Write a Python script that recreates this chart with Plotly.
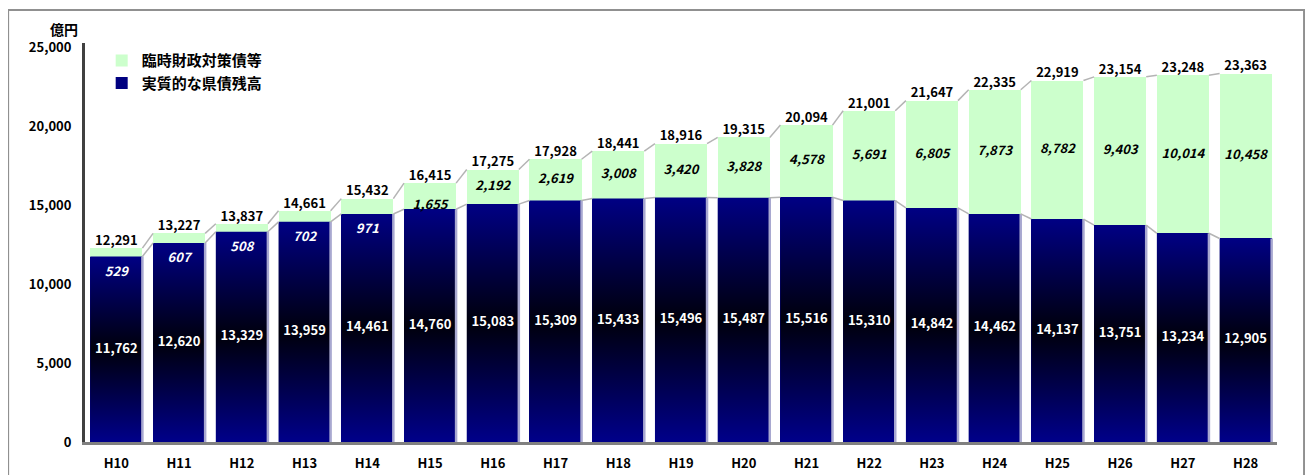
import plotly.graph_objects as go

categories = ["H10", "H11", "H12", "H13", "H14", "H15", "H16", "H17", "H18", "H19",
              "H20", "H21", "H22", "H23", "H24", "H25", "H26", "H27", "H28"]
debt = [11762, 12620, 13329, 13959, 14461, 14760, 15083, 15309, 15433, 15496,
        15487, 15516, 15310, 14842, 14462, 14137, 13751, 13234, 12905]
special = [529, 607, 508, 702, 971, 1655, 2192, 2619, 3008, 3420,
           3828, 4578, 5691, 6805, 7873, 8782, 9403, 10014, 10458]
name_special = "臨時財政対策債等"
name_debt = "実質的な県債残高"
unit_label = "億円"
y_ticks = [0, 5000, 10000, 15000, 20000, 25000]

totals = [a + b for a, b in zip(debt, special)]
xs = list(range(len(categories)))
W = 0.83
FONT = "Noto Sans CJK JP"
NAVY = "#000080"
GREEN = "#CCFFCC"

fig = go.Figure()

fig.add_trace(go.Bar(x=xs, y=debt, width=W, name=name_debt, legendgroup="d",
                     marker=dict(color=NAVY, line=dict(width=0)),
                     hoverinfo="y"))
fig.add_trace(go.Bar(x=xs, y=special, width=W, name=name_special, legendgroup="s",
                     marker=dict(color=GREEN, line=dict(width=0)),
                     hoverinfo="y"))

for i, v in zip(xs, debt):
    fig.add_trace(go.Scatter(
        x=[i - W / 2, i + W / 2, i + W / 2, i - W / 2, i - W / 2],
        y=[0, 0, v, v, 0],
        mode="lines", fill="toself", line=dict(width=0),
        fillgradient=dict(type="vertical",
                          colorscale=[[0, "#00008a"], [0.5, "#00000c"], [1, "#000084"]]),
        showlegend=False, hoverinfo="skip"))
    fig.add_trace(go.Scatter(
        x=[i + W / 2, i + W / 2], y=[0, v], mode="lines",
        line=dict(color="#A8A8D0", width=2.5),
        showlegend=False, hoverinfo="skip"))

def series_line(vals):
    lx, ly = [], []
    for i in range(len(vals) - 1):
        lx += [i + W / 2, i + 1 - W / 2, None]
        ly += [vals[i], vals[i + 1], None]
    return go.Scatter(x=lx, y=ly, mode="lines", line=dict(color="#B4B4B4", width=1.5),
                      showlegend=False, hoverinfo="skip")

fig.add_trace(series_line(totals))
fig.add_trace(series_line(debt))

fig.add_trace(go.Scatter(
    x=xs, y=[d / 2 for d in debt], mode="text",
    text=[f"{d:,}" for d in debt],
    textfont=dict(family=FONT, size=13, color="white", weight="bold"),
    showlegend=False, hoverinfo="skip"))

sp_y, sp_col = [], []
for d, s in zip(debt, special):
    if s < 1000:
        sp_y.append(d - 1000); sp_col.append("white")
    elif s < 2000:
        sp_y.append(d + 250); sp_col.append("black")
    else:
        sp_y.append(d + s / 2); sp_col.append("black")
fig.add_trace(go.Scatter(
    x=xs, y=sp_y, mode="text",
    text=[f"{s:,}" for s in special],
    textfont=dict(family=FONT, size=13, color=sp_col, style="italic", weight="bold"),
    showlegend=False, hoverinfo="skip"))

fig.add_trace(go.Scatter(
    x=xs, y=totals, mode="text", textposition="top center",
    text=[f"{t:,}" for t in totals],
    textfont=dict(family=FONT, size=13, color="black", weight="bold"),
    showlegend=False, hoverinfo="skip"))

fig.update_layout(
    width=1313, height=475,
    margin=dict(l=77, r=44, t=35, b=41),
    barmode="stack",
    paper_bgcolor="white", plot_bgcolor="white",
    font=dict(family=FONT, size=13, color="black"),
    showlegend=True,
    legend=dict(x=0.014, y=0.997, xanchor="left", yanchor="top",
                traceorder="reversed", bgcolor="rgba(0,0,0,0)",
                font=dict(family=FONT, size=15, weight="bold"),
                itemwidth=30, tracegroupgap=6),
    xaxis=dict(range=[-0.5, len(categories) - 0.5], tickvals=xs, ticktext=categories,
               showgrid=False, zeroline=False, showline=True, linecolor="#808080",
               linewidth=3, ticks="outside", ticklen=7, tickcolor="rgba(0,0,0,0)",
               tickfont=dict(family=FONT, size=13, weight="bold")),
    yaxis=dict(range=[0, 25300], tickvals=y_ticks, tickformat=",d",
               showgrid=False, zeroline=False, showline=True, linecolor="#404040",
               linewidth=3, ticks="outside", ticklen=8, tickcolor="rgba(0,0,0,0)",
               tickfont=dict(family=FONT, size=13, weight="bold")),
    shapes=[dict(type="rect", xref="paper", yref="paper",
                 x0=-0.0645, x1=1.0227, y0=-0.2, y1=1.083,
                 line=dict(color="#909090", width=2), fillcolor="rgba(0,0,0,0)",
                 layer="below")],
    annotations=[dict(text=unit_label, xref="paper", yref="paper",
                      x=-0.018, y=1.006, showarrow=False, xanchor="center", yanchor="bottom",
                      font=dict(family=FONT, size=14, weight="bold"))],
)

fig.write_html("out.html")
